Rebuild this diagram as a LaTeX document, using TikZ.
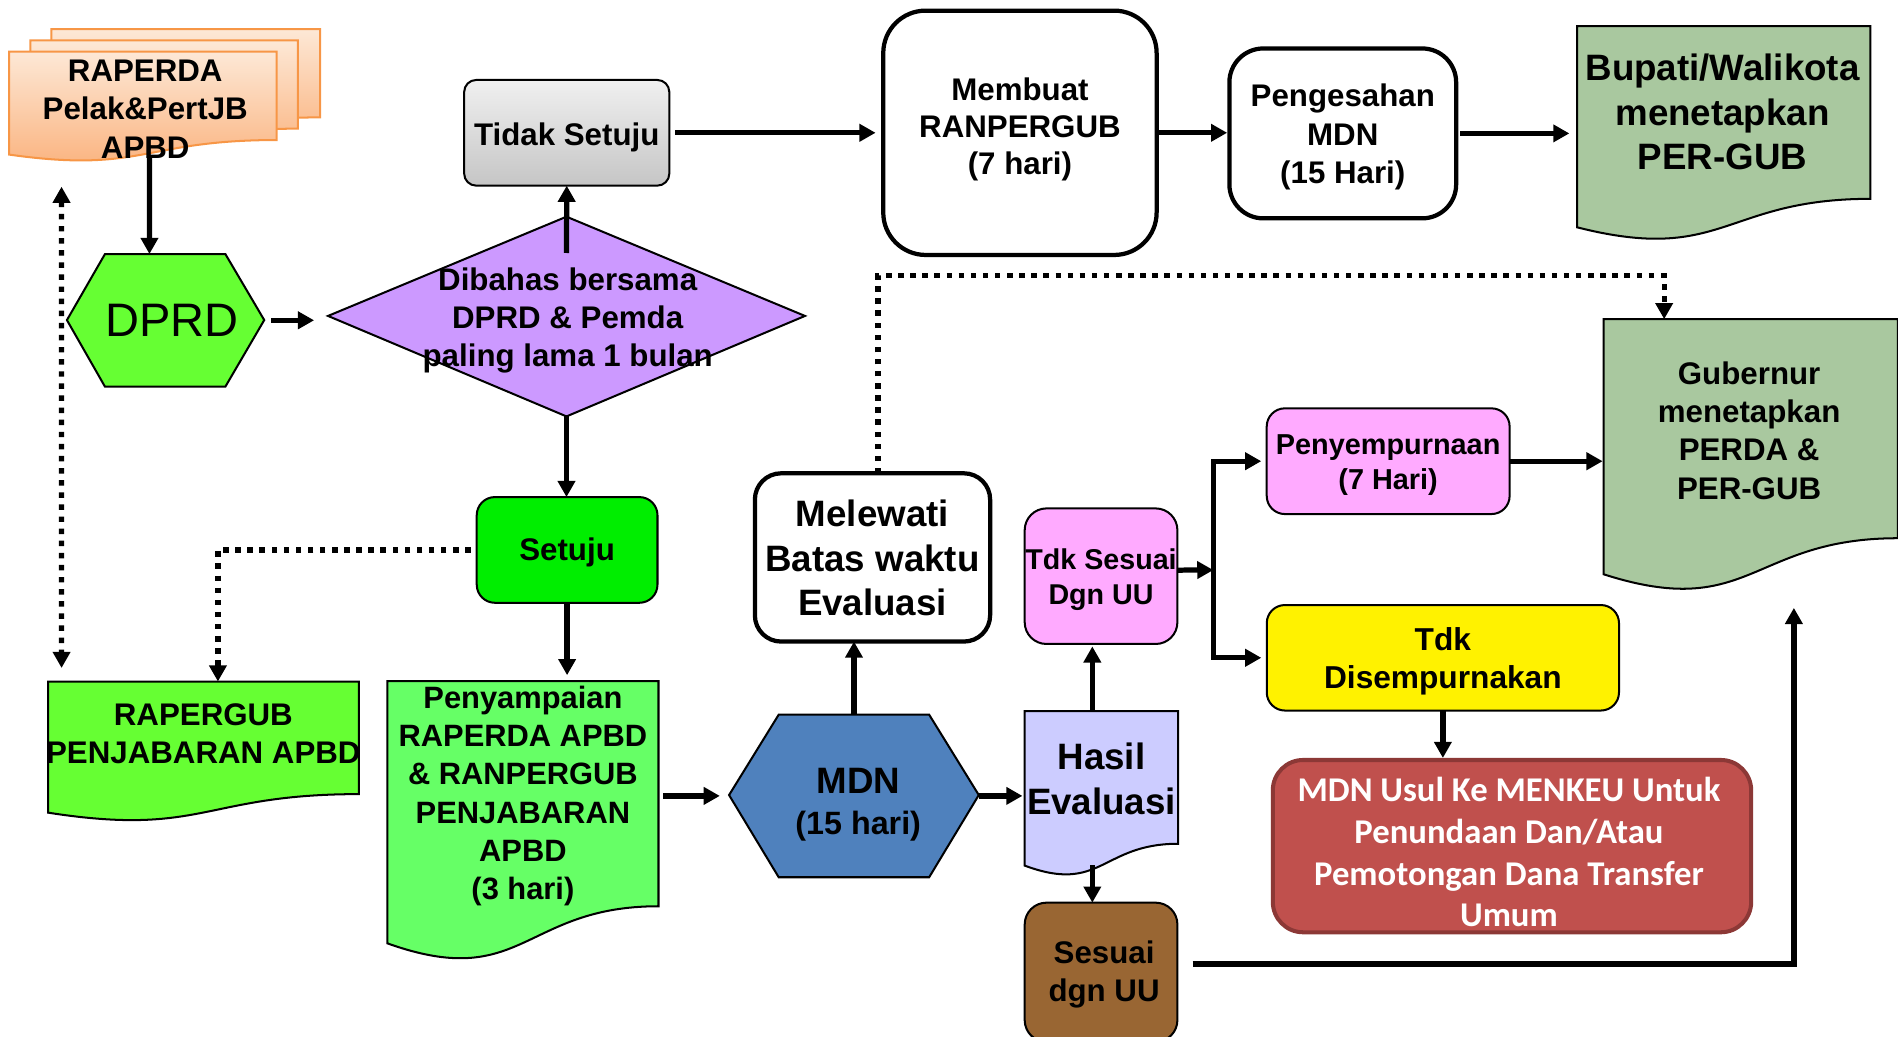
\documentclass[tikz,border=0pt]{standalone}
\usepackage{fontspec}
\setmainfont{Liberation Sans}
\newfontfamily\calib{Carlito}
\usetikzlibrary{arrows.meta}

\definecolor{orangeline}{HTML}{F79646}
\definecolor{peachtop}{HTML}{FDE8D6}
\definecolor{peachbot}{HTML}{FAB07A}
\definecolor{limegreen}{HTML}{66FF33}
\definecolor{lilac}{HTML}{CC99FF}
\definecolor{brightgreen}{HTML}{00EE00}
\definecolor{paleleaf}{HTML}{66FF66}
\definecolor{steel}{HTML}{4F81BD}
\definecolor{periwinkle}{HTML}{CCCCFF}
\definecolor{pinkfill}{HTML}{FFAAFF}
\definecolor{sage}{HTML}{A9C89F}
\definecolor{brownfill}{HTML}{996633}
\definecolor{brickfill}{HTML}{C0504D}
\definecolor{brickline}{HTML}{8C3836}

% document sheet with a wavy lower edge: options, left x, top y, width, height
\newcommand\docpath[5]{%
  \path[#1] (#2,#3) -- ({#2+#4},#3) -- ({#2+#4},{#3+0.802*#5})
    .. controls ({#2+0.5*#4},{#3+0.802*#5}) and ({#2+0.5*#4},{#3+1.107*#5})
    .. (#2,{#3+0.934*#5}) -- cycle;}

\begin{document}
\begin{tikzpicture}[x=0.6pt,y=-0.6pt,
  main/.style={font=\fontsize{15.5}{18.9}\selectfont\bfseries, align=center, inner sep=0pt},
  big/.style={font=\fontsize{18.2}{22}\selectfont\bfseries, align=center, inner sep=0pt},
  small/.style={font=\fontsize{14.2}{17.4}\selectfont\bfseries, align=center, inner sep=0pt},
  area/.style={inner sep=0pt, outer sep=0pt},
  box/.style={draw, line width=1pt, inner sep=0pt, outer sep=0pt},
  boldbox/.style={draw, line width=2.1pt, inner sep=0pt, outer sep=0pt, fill=white},
  sheet/.style={draw, line width=1pt},
  tip/.style={-{Triangle[length=8pt,width=8.4pt]}},
  arr/.style={line width=2.6pt, tip},
  dotline/.style={line width=2.6pt, dash pattern=on 2.7pt off 3.3pt},
  dotarr/.style={dotline, tip},
  paper/.style={top color=peachtop, bottom color=peachbot, draw=orangeline, line width=1pt}]

\useasboundingbox (0,0) rectangle (1568,856);
\clip (0,0) rectangle (1568,856);

% ---- stacked draft documents
\docpath{paper}{42.4}{24}{222}{91}
\docpath{paper}{25}{33.3}{221}{91}
\docpath{paper}{7.5}{42.7}{221}{91}
\node[area, minimum width=132.6pt, minimum height=54.6pt] (raperda) at (118,88.2) {};
\node[main] (raperdatext) at (120,90.2) {RAPERDA\\Pelak\&PertJB\\APBD};

% ---- DPRD hexagon
\draw[fill=limegreen, line width=1pt] (55.3,264.4) -- (86.7,209.9) -- (186.2,209.9)
  -- (218.3,264.4) -- (186.2,319.4) -- (86.7,319.4) -- cycle;
\node[area, minimum width=97.8pt, minimum height=65.7pt] (dprd) at (136.8,264.6) {};
\node[font=\fontsize{23.3}{28}\selectfont, inner sep=0pt] (dprdtext) at (142,265) {DPRD};

% ---- decision diamond
\draw[fill=lilac, line width=1pt] (271,261) -- (468,179) -- (665,261) -- (468,344) -- cycle;
\node[area, minimum width=236.4pt, minimum height=99pt] (diamond) at (468,261.5) {};
\node[main] (diamondtext) at (469,265) {Dibahas bersama\\DPRD \& Pemda\\paling lama 1 bulan};

% ---- top row
\node[box, top color=gray!12, bottom color=gray!45, rounded corners=6pt,
  minimum width=101.7pt, minimum height=52.4pt] (tidak) at (468.2,109.7) {};
\node[main, yshift=-2.4pt] (tidaktext) at (tidak) {Tidak Setuju};
\node[boldbox, rounded corners=21pt, minimum width=135.5pt, minimum height=121.1pt]
  (membuat) at (842.6,109.7) {};
\node[font=\fontsize{15.5}{18.3}\selectfont\bfseries, align=center, inner sep=0pt, yshift=1.6pt]
  (membuattext) at (membuat) {Membuat\\RANPERGUB\\(7 hari)};
\node[boldbox, rounded corners=16.8pt, minimum width=112.4pt, minimum height=84.2pt]
  (pengesahan) at (1109.3,110.2) {};
\node[main, yshift=-1.8pt] (pengesahantext) at (pengesahan) {Pengesahan\\MDN\\(15 Hari)};
\docpath{sheet, fill=sage}{1302.8}{21.5}{242.3}{178}
\node[area, minimum width=145.4pt, minimum height=106.8pt] (bupati) at (1424,110.5) {};
\node[big] (bupatitext) at (1423,92.5) {Bupati/Walikota\\menetapkan\\PER-GUB};

% ---- governor document
\docpath{sheet, fill=sage}{1324.8}{263.7}{243}{225.6}
\node[area, minimum width=145.8pt, minimum height=135.4pt] (gubernur) at (1446.3,376.5) {};
\node[font=\fontsize{15.5}{19}\selectfont\bfseries, align=center, inner sep=0pt]
  (gubernurtext) at (1445,355.5) {Gubernur\\menetapkan\\PERDA \&\\PER-GUB};

% ---- approval branch
\node[box, fill=brightgreen, rounded corners=9pt, minimum width=89.6pt, minimum height=52.4pt]
  (setuju) at (468.5,454.3) {};
\node[main, yshift=-1.2pt] (setujutext) at (setuju) {Setuju};
\docpath{sheet, fill=limegreen}{39.8}{563}{256.7}{116}
\node[area, minimum width=154pt, minimum height=69.6pt] (rapergub) at (168.2,621) {};
\node[main] (rapergubtext) at (168,606.5) {RAPERGUB\\PENJABARAN APBD};
\docpath{sheet, fill=paleleaf}{320}{562.6}{224}{232}
\node[area, minimum width=134.4pt, minimum height=139.2pt] (penyampaian) at (432,678.6) {};
\node[font=\fontsize{15.3}{19}\selectfont\bfseries, align=center, inner sep=0pt]
  (penyampaiantext) at (432,657.5)
  {Penyampaian\\RAPERDA APBD\\\& RANPERGUB\\PENJABARAN\\APBD\\(3 hari)};

% ---- evaluation
\draw[fill=steel, line width=1pt] (602.3,656.8) -- (643.3,590.4) -- (767.6,590.4)
  -- (808.6,656.8) -- (767.6,724.7) -- (643.3,724.7) -- cycle;
\node[area, minimum width=123.8pt, minimum height=80.6pt] (mdn) at (705.5,657.5) {};
\node[font=\fontsize{16}{20.2}\selectfont\bfseries, align=center, inner sep=0pt]
  (mdntext) at (709,665) {{\fontsize{18.2}{20.2}\selectfont MDN}\\(15 hari)};
\node[boldbox, rounded corners=13pt, minimum width=116.6pt, minimum height=83.4pt]
  (melewati) at (720.8,460.5) {};
\node[big, yshift=-0.4pt] (melewatitext) at (melewati) {Melewati\\Batas waktu\\Evaluasi};
\docpath{sheet, fill=periwinkle}{846.5}{587.4}{126.8}{136.7}
\node[area, minimum width=76.1pt, minimum height=82pt] (hasil) at (909.9,655.8) {};
\node[big] (hasiltext) at (910,643.5) {Hasil\\Evaluasi};
\node[box, fill=pinkfill, rounded corners=10.8pt, minimum width=75.7pt, minimum height=67.2pt]
  (tdksesuai) at (909.6,476) {};
\node[small, yshift=-1.6pt] (tdksesuaitext) at (tdksesuai) {Tdk Sesuai\\Dgn UU};
\node[box, fill=brownfill, rounded corners=10.8pt, minimum width=75.7pt, minimum height=69pt]
  (sesuai) at (909.6,803.2) {};
\node[main, yshift=-1pt] (sesuaitext) at ([xshift=1.5pt]sesuai.center) {Sesuai\\dgn UU};

% ---- outcomes
\node[box, fill=pinkfill, rounded corners=9pt, minimum width=120.4pt, minimum height=52.4pt]
  (penyempurnaan) at (1146.8,381) {};
\node[font=\fontsize{14.3}{17.4}\selectfont\bfseries, align=center, inner sep=0pt, yshift=-1.8pt]
  (penyempurnaantext) at (penyempurnaan) {Penyempurnaan\\(7 Hari)};
\node[box, fill=yellow, rounded corners=9pt, minimum width=174.6pt, minimum height=52.3pt]
  (tdkdis) at (1192,543.4) {};
\node[font=\fontsize{15.7}{19.2}\selectfont\bfseries, align=center, inner sep=0pt, yshift=-1.8pt]
  (tdkdistext) at (tdkdis) {Tdk\\Disempurnakan};
\node[draw=brickline, line width=2pt, fill=brickfill, rounded corners=15pt, inner sep=0pt,
  minimum width=237.1pt, minimum height=85.4pt] (mdnusul) at (1249.1,699) {};
\node[text=white, align=center, inner sep=0pt, yshift=-3pt,
  font=\calib\fontsize{17.2}{20.7}\selectfont\bfseries]
  (mdnusultext) at ([xshift=-1.5pt]mdnusul.center)
  {MDN Usul Ke MENKEU Untuk\\Penundaan Dan/Atau\\Pemotongan Dana Transfer\\Umum};

% ---- connectors
\draw[arr] ([xshift=3.3pt,yshift=2.8pt]raperda.south) -- ([xshift=-8pt]dprd.north);
\draw[arr, shorten <=3.4pt, shorten >=6.9pt] (dprd.east) -- (dprd.east -| diamond.west);
\draw[arr] ([yshift=-18pt]diamond.north) -- (tidak.south);
\draw[arr, shorten <=3pt, shorten >=3.8pt] (tidak.east) -- (membuat.west);
\draw[arr, shorten <=1pt, shorten >=1.1pt] (membuat.east) -- (membuat.east -| pengesahan.west);
\draw[arr, shorten <=2pt, shorten >=3.8pt] (pengesahan.east) -- (pengesahan.east -| bupati.west);
\draw[arr] (diamond.south) -- (diamond.south |- setuju.north);
\draw[arr, shorten >=2.9pt] (setuju.south) -- (setuju.south |- penyampaian.north);
\draw[dotarr, shorten <=3pt] (setuju.west) -| ([xshift=7.1pt]rapergub.north);
\draw[dotline, {Triangle[length=8pt,width=8.4pt]}-{Triangle[length=8pt,width=8.4pt]},
  shorten <=12.3pt, shorten >=6.7pt] ([xshift=-40.3pt]raperda.south) -- ([xshift=-70.4pt]rapergub.north);
\draw[arr, shorten <=2.4pt, shorten >=4.6pt] (mdn.west -| penyampaian.east) -- (mdn.west);
\draw[arr] (mdn.north) -- (mdn.north |- melewati.south);
\draw[arr, shorten >=1.1pt] (mdn.east) -- (mdn.east -| hasil.west);
\draw[arr, shorten >=1.2pt] ([xshift=-4.5pt]hasil.north) -- ([xshift=-4.5pt]hasil.north |- tdksesuai.south);
\draw[arr] ([xshift=-4.5pt,yshift=5.7pt]hasil.south) -- ([xshift=-4.5pt]hasil.south |- sesuai.north);
\coordinate (dotturn) at (1000,227.7);
\draw[dotarr] ([xshift=2.7pt]melewati.north) |- (dotturn) -| ([xshift=-42.9pt]gubernur.north);
\coordinate (fork) at (1002.4,470.9);
\draw[arr] ([yshift=3pt]tdksesuai.east) -- (fork);
\draw[line width=2.6pt, {Triangle[length=8pt,width=8.4pt]}-{Triangle[length=8pt,width=8.4pt]},
  shorten <=2.7pt, shorten >=2.7pt] (penyempurnaan.west) -| (fork) |- (tdkdis.west);
\draw[arr, shorten >=0.5pt] (penyempurnaan.east) -- (penyempurnaan.east -| gubernur.west);
\draw[arr] (tdkdis.south) -- (tdkdis.south |- mdnusul.north);
\draw[arr, shorten <=7.6pt, shorten >=7.7pt] ([yshift=4.1pt]sesuai.east) -| ([xshift=21.4pt]gubernur.south);

\end{tikzpicture}
\end{document}
